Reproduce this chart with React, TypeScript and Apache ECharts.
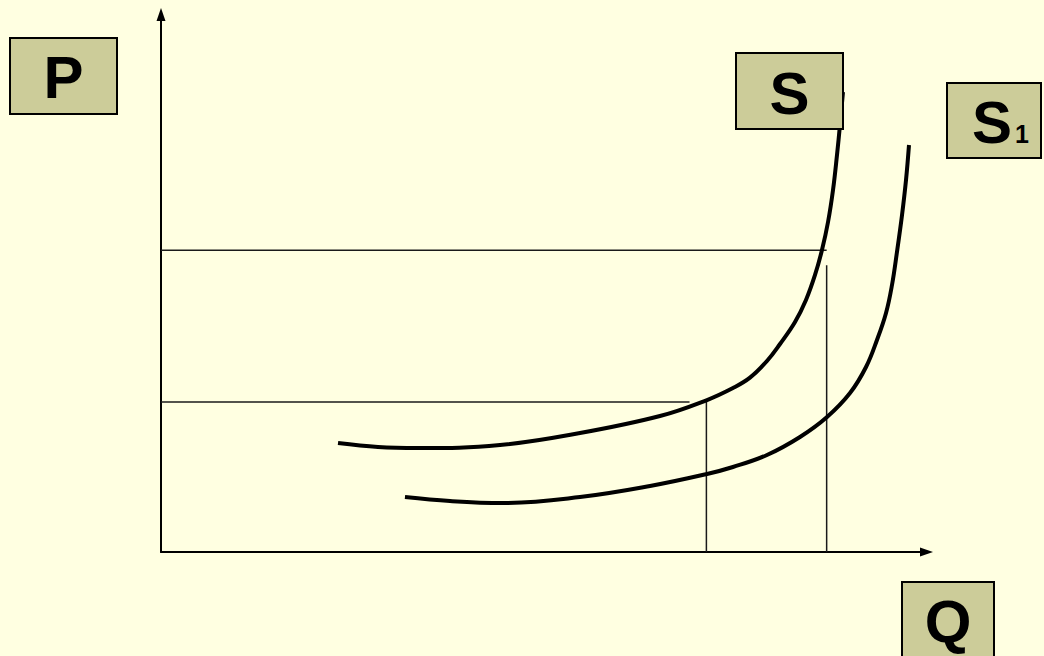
import React, { useEffect, useRef } from "react";
import * as echarts from "echarts";

// Supply curve S (Q, P)
const sQ = [23.11, 28.33, 33.55, 44.26, 54.7, 65.14, 71.28, 74.67, 76.89, 79.11, 80.81, 82.77, 84.2, 85.38, 86.29, 87.08, 87.73, 88.25, 88.64, 89.03];
const sP = [20.26, 19.52, 19.33, 19.89, 22.12, 25.28, 28.25, 30.48, 32.4, 35.5, 38.66, 42.75, 46.84, 51.49, 56.13, 61.34, 67.29, 73.79, 79.37, 85.5];
// Supply curve S1 (Q, P)
const s1Q = [31.85, 37.73, 44.65, 54.7, 63.84, 71.28, 74.67, 79.11, 83.42, 86.95, 89.95, 92.04, 93.47, 94.65, 95.43, 96.08, 96.74, 97.26, 97.65];
const s1P = [10.22, 9.48, 9.11, 10.22, 12.27, 14.5, 15.8, 18.03, 21.38, 25.09, 29.55, 34.39, 39.41, 44.42, 49.63, 55.76, 62.64, 69.14, 75.65];
// Reference levels
const priceHigh = 56.1;
const priceHighEndQ = 86.9;
const priceLow = 27.9;
const priceLowEndQ = 69.0;
const qLow = 71.2;
const qLowTopP = 27.9;
const qHigh = 86.9;
const qHighTopP = 53.3;

const BG = "#FFFFE1";
const BOX = "#CCCC99";
const FONT = "'Liberation Sans', Arial, sans-serif";

function box(x: number, y: number, w: number, h: number) {
  return {
    type: "rect",
    shape: { x, y, width: w, height: h },
    style: { fill: BOX, stroke: "#000", lineWidth: 2 },
    z: 10,
  };
}
function label(text: string, x: number, y: number, size: number) {
  return {
    type: "text",
    x,
    y,
    style: {
      text,
      fill: "#000",
      font: `bold ${size}px ${FONT}`,
      align: "center",
      verticalAlign: "middle",
    },
    z: 11,
  };
}

export default function App() {
  const ref = useRef<HTMLDivElement>(null);
  useEffect(() => {
    if (!ref.current) return;
    const chart = echarts.init(ref.current, undefined, { renderer: "svg" });
    const refLine = { color: "#1a1a1a", width: 1.5 };
    const axisLine = {
      show: true,
      lineStyle: { color: "#000", width: 2 },
    };
    chart.setOption({
      animation: false,
      backgroundColor: BG,
      grid: { left: 161, right: 117, top: 14, bottom: 104 },
      xAxis: {
        type: "value",
        min: 0,
        max: 100,
        axisLine,
        axisTick: { show: false },
        axisLabel: { show: false },
        splitLine: { show: false },
      },
      yAxis: {
        type: "value",
        min: 0,
        max: 100,
        axisLine,
        axisTick: { show: false },
        axisLabel: { show: false },
        splitLine: { show: false },
      },
      series: [
        {
          name: "S",
          type: "line",
          smooth: 0.4,
          showSymbol: false,
          lineStyle: { color: "#000", width: 4 },
          data: sQ.map((q, i) => [q, sP[i]]),
          z: 5,
        },
        {
          name: "S1",
          type: "line",
          smooth: 0.4,
          showSymbol: false,
          lineStyle: { color: "#000", width: 4 },
          data: s1Q.map((q, i) => [q, s1P[i]]),
          z: 5,
        },
        { type: "line", showSymbol: false, lineStyle: refLine, data: [[0, priceHigh], [priceHighEndQ, priceHigh]] },
        { type: "line", showSymbol: false, lineStyle: refLine, data: [[0, priceLow], [priceLowEndQ, priceLow]] },
        { type: "line", showSymbol: false, lineStyle: refLine, data: [[qLow, 0], [qLow, qLowTopP]] },
        { type: "line", showSymbol: false, lineStyle: refLine, data: [[qHigh, 0], [qHigh, qHighTopP]] },
      ],
      graphic: [
        // axis arrowheads
        {
          type: "polygon",
          shape: { points: [[933, 552], [920, 547.5], [920, 556.5]] },
          style: { fill: "#000" },
          z: 12,
        },
        {
          type: "polygon",
          shape: { points: [[161, 8], [156.5, 21], [165.5, 21]] },
          style: { fill: "#000" },
          z: 12,
        },
        box(10, 38, 107, 76),
        label("P", 63.5, 77, 60),
        box(736, 53, 107, 76),
        label("S", 789.5, 93, 60),
        box(947, 83, 94, 75),
        label("S", 992, 122, 60),
        label("1", 1022, 134, 25),
        box(902, 582, 92, 80),
        label("Q", 948, 621, 60),
      ],
    });
    return () => chart.dispose();
  }, []);
  return (
    <div
      ref={ref}
      style={{ position: "fixed", left: 0, top: 0, width: 1044, height: 656, background: BG }}
    />
  );
}
